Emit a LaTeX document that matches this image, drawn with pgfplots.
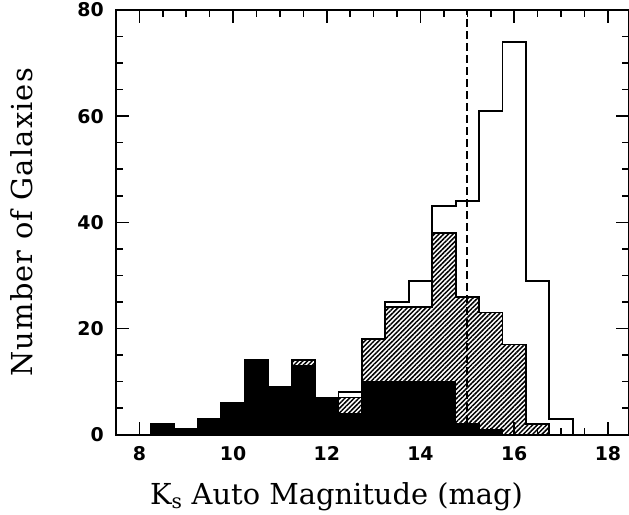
\documentclass[border=0pt]{standalone}
\usepackage{pgfplots}
\usepackage{pgfplotstable}
\pgfplotsset{compat=1.18}
\usepackage{fontspec}
\newfontfamily\labfont{DejaVu Serif}
\newfontfamily\ylabfont[LetterSpace=4]{DejaVu Serif}
\newfontfamily\tickfont{DejaVu Sans}
\usetikzlibrary{patterns.meta,calc}

\pgfplotstableread{
x total hatch black
8.25 2 2 2
8.75 1 1 1
9.25 3 3 3
9.75 6 6 6
10.25 14 14 14
10.75 9 9 9
11.25 14 14 13
11.75 7 7 7
12.25 8 7 4
12.75 18 18 10
13.25 25 24 10
13.75 29 24 10
14.25 43 38 10
14.75 44 26 2
15.25 61 23 1
15.75 74 17 0
16.25 29 2 0
16.75 3 0 0
17.25 3 0 0
}\hist

\begin{document}
\begin{tikzpicture}
\begin{axis}[
  scale only axis,
  width=513.5bp, height=425bp,
  xmin=7.5, xmax=18.45, ymin=0, ymax=80,
  xtick={8,10,12,14,16,18},
  ytick={0,20,40,60,80},
  minor x tick num=3,
  minor y tick num=3,
  tick align=inside,
  major tick length=13bp,
  minor tick length=7bp,
  tick style={line width=1.5bp, black},
  axis line style={line width=2bp},
  axis on top,
  /pgf/number format/assume math mode=true,
  ticklabel style={font=\tickfont\bfseries\fontsize{19}{19}\selectfont},
  yticklabel style={inner sep=0pt, xshift=-12bp},
  xticklabel style={inner sep=0pt, yshift=-12bp},
  xlabel={K\textsubscript{s} Auto Magnitude (mag)},
  ylabel={Number of Galaxies},
  xlabel style={font=\labfont\fontsize{29}{33}\selectfont, at={(axis description cs:0.43,-0.1647)}, anchor=base},
  ylabel style={font=\ylabfont\fontsize{29}{33}\selectfont, at={(axis description cs:-0.1616,0.5)}, anchor=base},
]
\addplot[const plot, draw=black, line width=1.8bp, fill=white] table[x=x,y=total]{\hist} \closedcycle;
\addplot[const plot, draw=black, line width=1.8bp, pattern={Lines[angle=45,distance=3.3bp,line width=1.5bp]}] table[x=x,y=hatch]{\hist} \closedcycle;
\addplot[const plot, draw=black, line width=1.5bp, fill=black] table[x=x,y=black]{\hist} \closedcycle;
\addplot[black, line width=2bp, dash pattern=on 8bp off 4bp] coordinates {(15,0) (15,80)};
\end{axis}
\pgfresetboundingbox
\path ($(current axis.south west)+(-116bp,-80bp)$) rectangle ($(current axis.north east)+(0bp,10bp)$);
\end{tikzpicture}
\end{document}
